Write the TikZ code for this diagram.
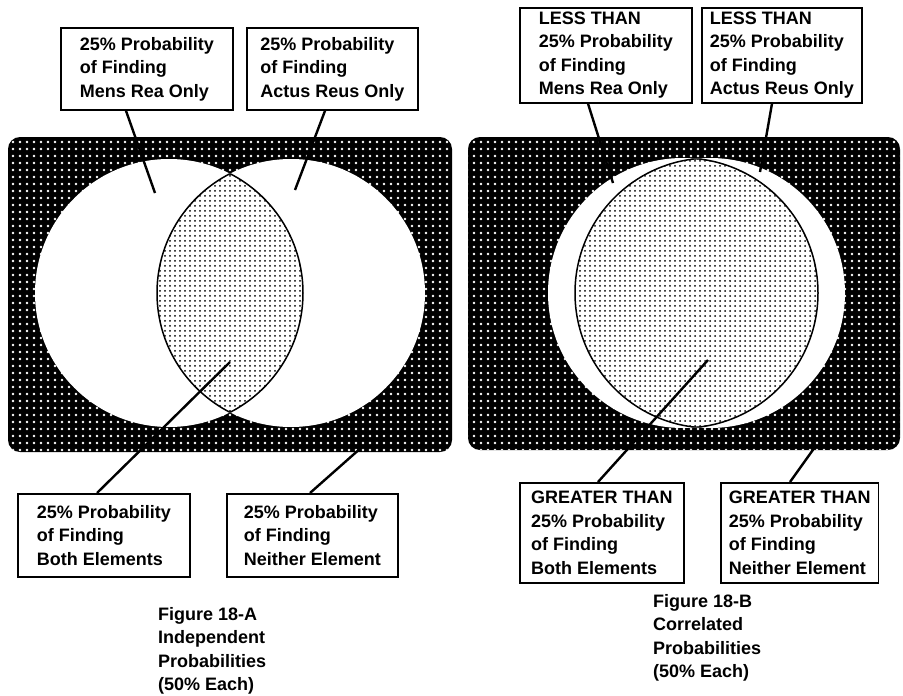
\documentclass[tikz,border=0pt]{standalone}
\usepackage{fontspec}
\setmainfont{Liberation Sans}
\usepackage{tikz}
\usetikzlibrary{patterns.meta, positioning, calc}

\begin{document}
\begin{tikzpicture}[x=1pt, y=-1pt,
  darkfield/.style={preaction={fill=black}, pattern={Dots[distance=6.5pt, radius=1.5pt]}, pattern color=white, rounded corners=12pt},
  stipple/.style={preaction={fill=white}, pattern={Dots[distance=5pt, radius=1pt]}, pattern color=black},
  rim/.style={line width=1.5pt},
  lblbox/.style={draw, line width=1.8pt, fill=white, anchor=north west, align=left, inner xsep=8pt, inner ysep=4pt, minimum width=#1},
  lblbox/.default=172pt,
  leader/.style={line width=2.4pt},
  capt/.style={anchor=north west, align=left, inner sep=0pt},
  every node/.style={font=\bfseries\fontsize{18}{23.5}\selectfont}]
\useasboundingbox (0,0) rectangle (903,696);

% Figure 18-A: independent
\path[darkfield] (8,137) rectangle (452,452);
\coordinate (mrA) at (169,293);
\coordinate (arA) at (291,293);
\fill[white] (mrA) circle (134pt) (arA) circle (134pt);
\begin{scope}
  \clip (mrA) circle (134pt);
  \path[stipple] (arA) circle (134pt);
  \draw[rim] (arA) circle (134pt);
\end{scope}
\begin{scope}
  \clip (arA) circle (134pt);
  \draw[rim] (mrA) circle (134pt);
\end{scope}

\node[lblbox, minimum height=82pt] (mrOnlyA) at (60,27) {25\% Probability\\of Finding\\Mens Rea Only};
\node[lblbox=171pt, minimum height=82pt] (arOnlyA) at (246,27) {25\% Probability\\of Finding\\Actus Reus Only};
\node[lblbox, minimum height=83pt] (bothA) at (17,493) {25\% Probability\\of Finding\\Both Elements};
\node[lblbox=171pt, minimum height=83pt] (neitherA) at (226,493) {25\% Probability\\of Finding\\Neither Element};

\coordinate (mrA-pt) at (155,193);
\coordinate (arA-pt) at (295,190);
\coordinate (bothA-pt) at (230,362);
\coordinate (neitherA-pt) at (362,447);
\draw[leader] ([xshift=66pt]mrOnlyA.south west) -- (mrA-pt);
\draw[leader] ([xshift=79pt]arOnlyA.south west) -- (arA-pt);
\draw[leader] ([xshift=80pt]bothA.north west) -- (bothA-pt);
\draw[leader] ([xshift=84pt]neitherA.north west) -- (neitherA-pt);

\node[capt] (captA) at (158,607) {Figure 18-A\\Independent\\Probabilities\\(50\% Each)};

% Figure 18-B: correlated
\path[darkfield] (468,137) rectangle (900,450);
\coordinate (mrB) at (683,293);
\coordinate (arB) at (710,293);
\fill[white] (mrB) circle (135pt) (arB) circle (135pt);
\begin{scope}
  \clip (mrB) circle (135pt);
  \path[stipple] (arB) circle (135pt);
  \draw[rim] (arB) circle (135pt);
\end{scope}
\begin{scope}
  \clip (arB) circle (135pt);
  \draw[rim] (mrB) circle (135pt);
\end{scope}

\node[lblbox, minimum height=93pt] (mrOnlyB) at (519,7) {LESS THAN\\25\% Probability\\of Finding\\Mens Rea Only};
\node[lblbox=156pt, minimum height=93pt] (arOnlyB) at (701,7) {LESS THAN\\25\% Probability\\of Finding\\Actus Reus Only};
\node[lblbox=164pt, minimum height=100pt] (bothB) at (519,482) {GREATER THAN\\25\% Probability\\of Finding\\Both Elements};
\node[lblbox=157pt, minimum height=100pt] (neitherB) at (720,482) {GREATER THAN\\25\% Probability\\of Finding\\Neither Element};

\coordinate (mrB-pt) at (613,183);
\coordinate (arB-pt) at (760,172);
\coordinate (bothB-pt) at (708,360);
\coordinate (neitherB-pt) at (815,447);
\draw[leader] ([xshift=69pt]mrOnlyB.south west) -- (mrB-pt);
\draw[leader] ([xshift=71pt]arOnlyB.south west) -- (arB-pt);
\draw[leader] ([xshift=79pt]bothB.north west) -- (bothB-pt);
\draw[leader] ([xshift=70pt]neitherB.north west) -- (neitherB-pt);

\node[capt] (captB) at (653,594) {Figure 18-B\\Correlated\\Probabilities\\(50\% Each)};
\end{tikzpicture}
\end{document}
